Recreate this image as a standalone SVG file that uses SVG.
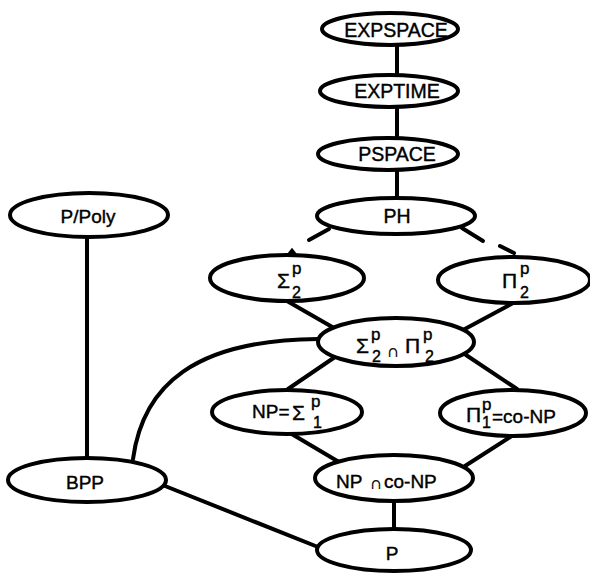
<svg xmlns="http://www.w3.org/2000/svg" width="590" height="573" viewBox="0 0 590 573">
  <style>
    .node ellipse { fill: #fff; stroke: #000; stroke-width: 4; }
    .node text { font-family: "Liberation Sans", Arial, sans-serif; font-size: 19px; fill: #000; stroke: #000; stroke-width: 0.4; text-anchor: middle; }
    .node text.m { text-anchor: start; }
    .node text.top { font-size: 19.5px; }
    .edges path { fill: none; stroke: #000; stroke-width: 4; stroke-linecap: round; }
    .big { font-size: 21px; }
    .sup { font-size: 17px; }
    .sub { font-size: 16px; }
    .cap { font-size: 17px; }
  </style>
  <rect width="590" height="573" fill="#fff"/>

  <g class="edges">
    <path d="M397,44 L397,75"/>
    <path d="M397,106 L397,138"/>
    <path d="M397,169 L397,198"/>
    <!-- PH hierarchy continuation strokes -->
    <path d="M329,229 L309,240"/>
    <path d="M462,228 L483,241"/>
    <path d="M288,256 L292,251 L296,256"/>
    <path d="M500,246 L514,253"/>
    <!-- level 2 -->
    <path d="M287,301 L334,328"/>
    <path d="M515,302 L463,330"/>
    <path d="M335,357 L288,389"/>
    <path d="M466,355 L517,389"/>
    <!-- level 1 -->
    <path d="M290,433 L339,462"/>
    <path d="M515,434 L465,466"/>
    <path d="M394,501 L394,528"/>
    <!-- BPP links -->
    <path d="M87,237 L87,458"/>
    <path d="M133,459 C143,385 195,340 318,339"/>
    <path d="M165,486 L318,547"/>
  </g>

  <g id="expspace" class="node">
    <ellipse cx="390" cy="29" rx="68" ry="16"/>
    <text class="top" x="396" y="37">EXPSPACE</text>
  </g>
  <g id="exptime" class="node">
    <ellipse cx="389" cy="91" rx="69" ry="16"/>
    <text class="top" x="397" y="98">EXPTIME</text>
  </g>
  <g id="pspace" class="node">
    <ellipse cx="388" cy="154" rx="70" ry="16"/>
    <text class="top" x="397" y="161">PSPACE</text>
  </g>
  <g id="ph" class="node">
    <ellipse cx="396" cy="216" rx="79" ry="18"/>
    <text class="top" x="397" y="223">PH</text>
  </g>
  <g id="sigma2" class="node">
    <ellipse cx="287" cy="278" rx="77" ry="23"/>
    <text class="m"><tspan class="big" x="277" y="288">Σ</tspan><tspan class="sup" x="292" y="274">p</tspan><tspan class="sub" x="292" y="298">2</tspan></text>
  </g>
  <g id="pi2" class="node">
    <ellipse cx="514" cy="280" rx="76" ry="23"/>
    <text class="m"><tspan class="big" x="502" y="288">Π</tspan><tspan class="sup" x="520" y="274">p</tspan><tspan class="sub" x="520" y="298">2</tspan></text>
  </g>
  <g id="sigma2-cap-pi2" class="node">
    <ellipse cx="396" cy="342" rx="78" ry="24"/>
    <text class="m"><tspan class="big" x="356" y="353">Σ</tspan><tspan class="sup" x="371" y="340">p</tspan><tspan class="sub" x="372" y="362">2</tspan><tspan class="cap" x="387" y="357">∩</tspan><tspan class="big" x="405" y="353">Π</tspan><tspan class="sup" x="423" y="340">p</tspan><tspan class="sub" x="425" y="362">2</tspan></text>
  </g>
  <g id="np" class="node">
    <ellipse cx="287" cy="412" rx="75" ry="22"/>
    <text class="m"><tspan x="252" y="418">NP=</tspan><tspan class="big" x="292" y="420">Σ</tspan><tspan class="sup" x="311" y="407">p</tspan><tspan class="sub" x="313" y="428">1</tspan></text>
  </g>
  <g id="conp" class="node">
    <ellipse cx="513" cy="413" rx="73" ry="23"/>
    <text class="m"><tspan class="big" x="466" y="422">Π</tspan><tspan class="sup" x="482" y="410">p</tspan><tspan class="sub" x="482" y="428">1</tspan><tspan x="492" y="423">=co-NP</tspan></text>
  </g>
  <g id="np-cap-conp" class="node">
    <ellipse cx="394" cy="478" rx="79" ry="23"/>
    <text class="m"><tspan x="336" y="488">NP</tspan><tspan class="cap" x="370" y="489">∩</tspan><tspan x="384" y="488">co-NP</tspan></text>
  </g>
  <g id="p" class="node">
    <ellipse cx="394" cy="550" rx="77" ry="21"/>
    <text x="392" y="560">P</text>
  </g>
  <g id="ppoly" class="node">
    <ellipse cx="89" cy="215" rx="79" ry="22"/>
    <text x="88" y="223">P/Poly</text>
  </g>
  <g id="bpp" class="node">
    <ellipse cx="87" cy="480" rx="79" ry="22"/>
    <text x="85" y="489">BPP</text>
  </g>
</svg>
